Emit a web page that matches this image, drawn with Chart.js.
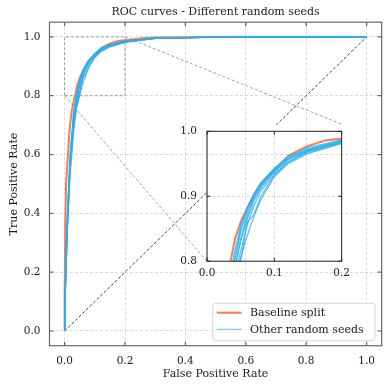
<!DOCTYPE html>
<html>
<head>
<meta charset="utf-8">
<script src="https://cdn.jsdelivr.net/npm/chart.js@4"></script>
<style>
  body { margin: 0; background: #fff; }
  #wrap { position: relative; width: 390px; height: 390px; }
  #wrap canvas { position: absolute; left: 0; top: 0; }
</style>
</head>
<body>
<div id="wrap">
  <canvas id="main" width="390" height="390"></canvas>
  <canvas id="inset"></canvas>
</div>
<script>
// ---- data ----
const TITLE = 'ROC curves - Different random seeds';
const MAIN_TICKS = [0, 0.2, 0.4, 0.6, 0.8, 1.0];
const INSET_X_TICKS = [0, 0.1, 0.2];
const INSET_Y_TICKS = [0.8, 0.9, 1.0];
const ZOOM_X = [0, 0.2, 0.2, 0, 0];
const ZOOM_Y = [0.8, 0.8, 1.0, 1.0, 0.8];
const CHANCE_X = [0, 1];
const CHANCE_Y = [0, 1];
const LEGEND_LABELS = ['Baseline split', 'Other random seeds'];

const baseFpr = [0, 0, 0.002, 0.005, 0.011, 0.017, 0.024, 0.031, 0.036, 0.042, 0.051, 0.063, 0.080, 0.100, 0.122, 0.149, 0.176, 0.200, 0.250, 0.300, 0.400, 0.600, 0.800, 1.000];
const baseTpr = [0, 0.10, 0.36, 0.50, 0.60, 0.69, 0.75, 0.785, 0.805, 0.836, 0.863, 0.889, 0.919, 0.941, 0.963, 0.977, 0.986, 0.989, 0.995, 0.998, 0.999, 1.0, 1.0, 1.0];

const seedFpr = [0, 0.003, 0.009, 0.018, 0.030, 0.040, 0.050, 0.060, 0.070, 0.080, 0.100, 0.120, 0.150, 0.200, 0.300, 0.500, 1.000];
const seed1 = [0, 0.20, 0.40, 0.60, 0.75, 0.810, 0.855, 0.883, 0.905, 0.921, 0.943, 0.961, 0.975, 0.987, 0.997, 0.999, 1];
const seed2 = [0, 0.18, 0.38, 0.58, 0.73, 0.795, 0.845, 0.875, 0.900, 0.917, 0.940, 0.958, 0.973, 0.986, 0.996, 0.999, 1];
const seed3 = [0, 0.17, 0.37, 0.56, 0.71, 0.780, 0.830, 0.865, 0.893, 0.912, 0.937, 0.956, 0.971, 0.985, 0.996, 0.999, 1];
const seed4 = [0, 0.15, 0.35, 0.55, 0.70, 0.770, 0.815, 0.857, 0.886, 0.908, 0.934, 0.953, 0.969, 0.983, 0.995, 0.999, 1];
const seed5 = [0, 0.14, 0.33, 0.53, 0.68, 0.760, 0.800, 0.860, 0.872, 0.900, 0.932, 0.952, 0.968, 0.982, 0.995, 0.999, 1];
const seed6 = [0, 0.15, 0.34, 0.54, 0.69, 0.765, 0.805, 0.840, 0.870, 0.895, 0.930, 0.950, 0.966, 0.981, 0.995, 0.999, 1];
const seed7 = [0, 0.19, 0.39, 0.59, 0.74, 0.800, 0.850, 0.880, 0.903, 0.920, 0.942, 0.960, 0.972, 0.984, 0.996, 0.999, 1];
const seed8 = [0, 0.16, 0.36, 0.57, 0.72, 0.785, 0.835, 0.870, 0.897, 0.915, 0.938, 0.957, 0.970, 0.983, 0.996, 0.999, 1];
const SEEDS = [seed1, seed2, seed3, seed4, seed5, seed6, seed7, seed8];

// inset placement in main axes fraction: x0, y0 (from bottom), width, height
const INSET_AXES = [0.473, 0.262, 0.411, 0.421];

// ---- styles ----
const ORANGE = '#FF7A4D';
const BLUE = 'rgba(40,175,240,0.8)';
const GRID = 'rgba(0,0,0,0.18)';
const TEXT = '#1a1a1a';
Chart.defaults.font.family = "'DejaVu Serif', serif";
Chart.defaults.color = TEXT;

const toPoints = (xs, ys) => xs.map((x, i) => ({ x, y: ys[i] }));

// first dataset is painted last, so seeds go first to sit on top of the baseline
function curveDatasets() {
  const list = SEEDS.map(s => ({
    data: toPoints(seedFpr, s), borderColor: BLUE, borderWidth: 1.2,
    showLine: true, pointRadius: 0, tension: 0, clip: 0
  }));
  list.push({
    data: toPoints(baseFpr, baseTpr), borderColor: ORANGE, borderWidth: 2,
    showLine: true, pointRadius: 0, tension: 0, clip: 0
  });
  return list;
}

function fixedTicks(values) {
  return s => { s.ticks = values.map(v => ({ value: v })); };
}

// frame on all four sides + inward ticks (matplotlib look)
const frameTicks = {
  id: 'frameTicks',
  afterDraw(chart, args, opts) {
    const { ctx, chartArea: a, scales: { x, y } } = chart;
    ctx.save();
    ctx.setLineDash([]);
    ctx.strokeStyle = opts.color;
    ctx.lineWidth = opts.width;
    ctx.beginPath();
    x.ticks.forEach(t => {
      const px = x.getPixelForValue(t.value);
      ctx.moveTo(px, a.bottom); ctx.lineTo(px, a.bottom - opts.len);
      ctx.moveTo(px, a.top); ctx.lineTo(px, a.top + opts.len);
    });
    y.ticks.forEach(t => {
      const py = y.getPixelForValue(t.value);
      ctx.moveTo(a.left, py); ctx.lineTo(a.left + opts.len, py);
      ctx.moveTo(a.right, py); ctx.lineTo(a.right - opts.len, py);
    });
    ctx.stroke();
    ctx.strokeRect(a.left, a.top, a.right - a.left, a.bottom - a.top);
    ctx.restore();
  }
};

function insetRect(chart) {
  const a = chart.chartArea;
  const w = a.right - a.left, h = a.bottom - a.top;
  const left = a.left + INSET_AXES[0] * w;
  const bottom = a.bottom - INSET_AXES[1] * h;
  return { left, bottom, right: left + INSET_AXES[2] * w, top: bottom - INSET_AXES[3] * h };
}

const CHANCE_INDEX = SEEDS.length + 2;

// hides the diagonal behind the inset, draws connector lines and the legend
const insetLinks = {
  id: 'insetLinks',
  beforeDatasetDraw(chart, args) {
    if (args.index !== CHANCE_INDEX) return;
    const r = insetRect(chart), ctx = chart.ctx;
    ctx.save();
    ctx.beginPath();
    ctx.rect(0, 0, chart.width, chart.height);
    ctx.rect(r.left, r.top, r.right - r.left, r.bottom - r.top);
    ctx.clip('evenodd');
  },
  afterDatasetDraw(chart, args) {
    if (args.index === CHANCE_INDEX) chart.ctx.restore();
  },
  afterDatasetsDraw(chart) {
    const { ctx, scales: { x, y } } = chart;
    const r = insetRect(chart);
    ctx.save();
    ctx.strokeStyle = '#8a8a8a';
    ctx.lineWidth = 0.8;
    ctx.setLineDash([3, 2]);
    ctx.beginPath();
    ctx.moveTo(x.getPixelForValue(ZOOM_X[0]), y.getPixelForValue(ZOOM_Y[0]));
    ctx.lineTo(r.left, r.bottom);
    ctx.moveTo(x.getPixelForValue(ZOOM_X[2]), y.getPixelForValue(ZOOM_Y[2]));
    ctx.lineTo(r.right, r.top);
    ctx.stroke();
    ctx.restore();
  },
  afterDraw(chart) {
    const { ctx, chartArea: a } = chart;
    const w = 162.3, h = 37.4;
    const x0 = a.right - 6.7 - w, y0 = a.bottom - 5 - h;
    ctx.save();
    ctx.beginPath();
    ctx.roundRect(x0, y0, w, h, 3);
    ctx.fillStyle = 'rgba(255,255,255,0.85)';
    ctx.fill();
    ctx.strokeStyle = '#d4d4d4';
    ctx.lineWidth = 1;
    ctx.stroke();
    const styles = [{ c: ORANGE, w: 2 }, { c: BLUE, w: 1 }];
    ctx.font = "11px 'DejaVu Serif'";
    ctx.textBaseline = 'middle';
    LEGEND_LABELS.forEach((t, i) => {
      const yy = y0 + 9.4 + i * 16.6;
      ctx.beginPath();
      ctx.moveTo(x0 + 4, yy);
      ctx.lineTo(x0 + 29, yy);
      ctx.strokeStyle = styles[i].c;
      ctx.lineWidth = styles[i].w;
      ctx.stroke();
      ctx.fillStyle = TEXT;
      ctx.fillText(t, x0 + 37.3, yy + 0.5);
    });
    ctx.restore();
  }
};

const tickFont = { size: 10.5 };
const labelFont = { size: 11 };

const mainDatasets = curveDatasets();
mainDatasets.push({
  data: toPoints(ZOOM_X, ZOOM_Y), borderColor: '#8a8a8a', borderWidth: 0.8,
  borderDash: [3, 2], showLine: true, pointRadius: 0, tension: 0
});
mainDatasets.push({
  data: toPoints(CHANCE_X, CHANCE_Y), borderColor: '#111', borderWidth: 0.8,
  borderDash: [3, 2], showLine: true, pointRadius: 0, tension: 0
});

const mainChart = new Chart(document.getElementById('main'), {
  type: 'scatter',
  data: { datasets: mainDatasets },
  options: {
    responsive: false,
    animation: false,
    events: [],
    layout: { padding: { top: 0, right: 8.3, bottom: 0, left: 0 } },
    plugins: {
      legend: { display: false },
      tooltip: { enabled: false },
      title: {
        display: true, text: TITLE, fullSize: false, color: TEXT,
        font: { size: 11, weight: 'normal' }, padding: { top: 6, bottom: 3 }
      },
      frameTicks: { color: '#666', width: 1.2, len: 4 }
    },
    scales: {
      x: {
        type: 'linear', min: -0.05, max: 1.05,
        afterBuildTicks: fixedTicks(MAIN_TICKS),
        afterFit: s => { s.height = 44.3; },
        grid: { color: GRID, lineWidth: 0.8, drawTicks: false },
        border: { display: false, dash: [3, 2] },
        ticks: { padding: 9, font: tickFont, color: TEXT, maxRotation: 0, callback: v => v.toFixed(1) },
        title: { display: true, text: 'False Positive Rate', font: labelFont, color: TEXT, padding: { top: 0, bottom: 9 } }
      },
      y: {
        type: 'linear', min: -0.05, max: 1.05,
        afterBuildTicks: fixedTicks(MAIN_TICKS),
        afterFit: s => { s.width = 49.5; },
        grid: { color: GRID, lineWidth: 0.8, drawTicks: false },
        border: { display: false, dash: [3, 2] },
        ticks: { padding: 9, font: tickFont, color: TEXT, callback: v => v.toFixed(1) },
        title: { display: true, text: 'True Positive Rate', font: labelFont, color: TEXT, padding: { top: 7.5, bottom: 0 } }
      }
    }
  },
  plugins: [frameTicks, insetLinks]
});

// ---- inset, placed so its plot area lands on the inset rectangle ----
const r = insetRect(mainChart);
const M = { left: 36, top: 10, right: 12, bottom: 24 };
const iw = r.right - r.left, ih = r.bottom - r.top;
const cw = Math.ceil(iw) + M.left + M.right;
const ch = Math.ceil(ih) + M.top + M.bottom;
const insetCanvas = document.getElementById('inset');
insetCanvas.width = cw;
insetCanvas.height = ch;
insetCanvas.style.left = (r.left - M.left) + 'px';
insetCanvas.style.top = (r.top - M.top) + 'px';

new Chart(insetCanvas, {
  type: 'scatter',
  data: { datasets: curveDatasets() },
  options: {
    responsive: false,
    animation: false,
    events: [],
    layout: { padding: { top: M.top, right: cw - M.left - iw, bottom: 0, left: 0 } },
    plugins: {
      legend: { display: false },
      tooltip: { enabled: false },
      frameTicks: { color: '#222', width: 1, len: 3.5 }
    },
    scales: {
      x: {
        type: 'linear', min: 0, max: 0.2,
        afterBuildTicks: fixedTicks(INSET_X_TICKS),
        afterFit: s => { s.height = ch - M.top - ih; },
        grid: { color: GRID, lineWidth: 0.8, drawTicks: false },
        border: { display: false, dash: [3, 2] },
        ticks: { padding: 6, font: tickFont, color: TEXT, maxRotation: 0, callback: v => v.toFixed(1) }
      },
      y: {
        type: 'linear', min: 0.8, max: 1.0,
        afterBuildTicks: fixedTicks(INSET_Y_TICKS),
        afterFit: s => { s.width = M.left; },
        grid: { color: GRID, lineWidth: 0.8, drawTicks: false },
        border: { display: false, dash: [3, 2] },
        ticks: { padding: 10, font: tickFont, color: TEXT, callback: v => v.toFixed(1) }
      }
    }
  },
  plugins: [frameTicks]
});
</script>
</body>
</html>
